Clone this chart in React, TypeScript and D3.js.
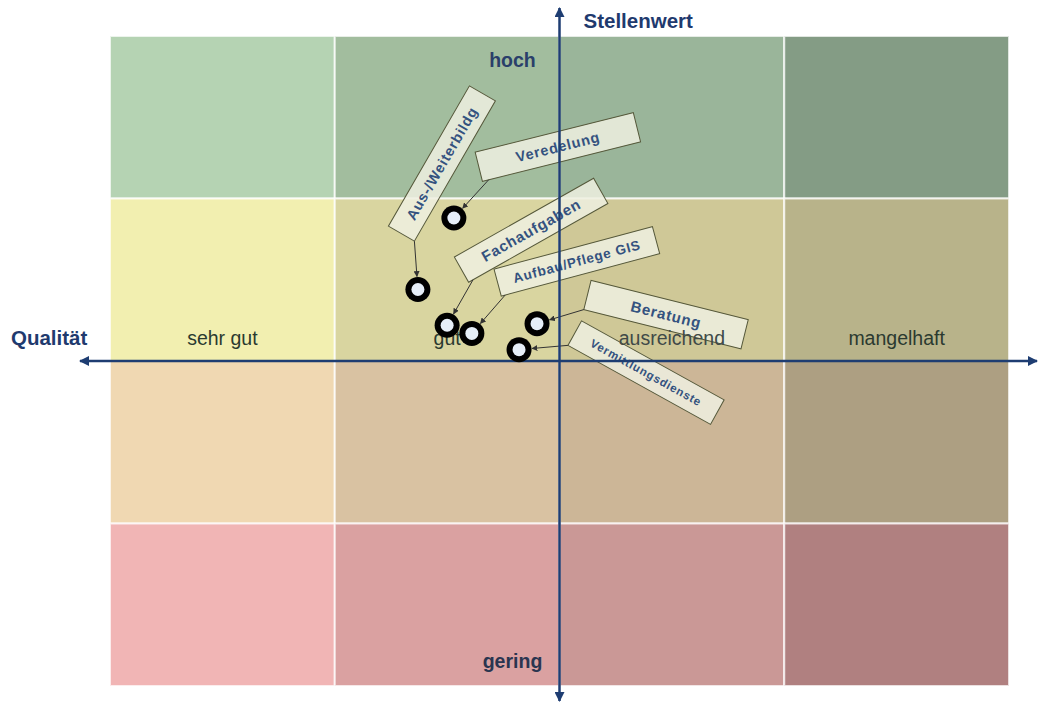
import React from 'react';
import * as d3 from 'd3';

// Achsen-Kategorien
const qualityLabels = ['sehr gut', 'gut', 'ausreichend', 'mangelhaft'];
const importanceRows = ['hoch', 'mittel-hoch', 'mittel-gering', 'gering'];

// Bewertete Aufgabenfelder
const items = [
  'Aus-/Weiterbildg',
  'Veredelung',
  'Fachaufgaben',
  'Aufbau/Pflege GIS',
  'Beratung',
  'Vermittlungsdienste',
];
const qualityScores = [1.37, 1.53, 1.5, 1.61, 1.9, 1.82];
const importanceScores = [2.44, 2.88, 2.22, 2.17, 2.23, 2.07];

// cell colours, row by row (top = hoch)
const cellColors = [
  ['#b5d3b3', '#a2bd9e', '#9ab59a', '#849c85'],
  ['#f2efb0', '#d9d5a0', '#cfc897', '#b8b38a'],
  ['#f0d8b2', '#d9c2a2', '#ccb697', '#ad9f82'],
  ['#f1b5b5', '#daa1a1', '#ca9896', '#b08080'],
];

// callout layout: box centre offset from point, rotation, size, connector anchor (box-local)
const callouts = [
  { dx: 24, dy: -126, angle: -60, w: 162, h: 30, ax: -81, ay: 15, fs: 14.5 },
  { dx: 104, dy: -71, angle: -14, w: 163, h: 30, ax: -75, ay: 15, fs: 14.5 },
  { dx: 84, dy: -95, angle: -29.5, w: 160, h: 29, ax: -75, ay: 14.5, fs: 15 },
  { dx: 105, dy: -72, angle: -15, w: 164, h: 28, ax: -78, ay: 14, fs: 13.5 },
  { dx: 129, dy: -9, angle: 14, w: 162, h: 30, ax: -81, ay: 15, fs: 15 },
  { dx: 127, dy: 23, angle: 29, w: 163, h: 28, ax: -81.5, ay: 14, fs: 11.5 },
];

const W = 1039;
const H = 702;
const left = 110;
const right = 1009;
const top = 36;
const bottom = 686;
const axisColor = '#1e3d72';
const font = 'Arial, "Liberation Sans", sans-serif';

export default function App() {
  const x = d3.scaleLinear().domain([0, 4]).range([left, right]);
  const y = d3.scaleLinear().domain([0, 4]).range([bottom, top]);
  const colBand = d3.scaleBand<number>().domain(d3.range(4)).range([left, right]);
  const rowBand = d3.scaleBand<number>().domain(d3.range(4)).range([top, bottom]);

  const cx0 = x(2);
  const cy0 = y(2);

  const pts = items.map((name, i) => {
    const px = x(qualityScores[i]);
    const py = y(importanceScores[i]);
    const c = callouts[i];
    const bx = px + c.dx;
    const by = py + c.dy;
    const r = (c.angle * Math.PI) / 180;
    const sx = bx + c.ax * Math.cos(r) - c.ay * Math.sin(r);
    const sy = by + c.ax * Math.sin(r) + c.ay * Math.cos(r);
    const len = Math.hypot(px - sx, py - sy);
    const ex = px + ((sx - px) / len) * 13;
    const ey = py + ((sy - py) / len) * 13;
    return { name, px, py, bx, by, c, sx, sy, ex, ey };
  });

  return (
    <div style={{ position: 'absolute', left: 0, top: 0 }}>
      <svg width={W} height={H} style={{ display: 'block', background: '#fff' }}>
        <defs>
          <marker id="arr" viewBox="0 0 10 10" refX="9" refY="5" markerWidth="6" markerHeight="6" orient="auto">
            <path d="M0,0 L10,5 L0,10 z" fill="#333" />
          </marker>
          <marker id="axArr" viewBox="0 0 10 10" refX="9" refY="5" markerWidth="4" markerHeight="4" orient="auto">
            <path d="M0,0 L10,5 L0,10 z" fill={axisColor} />
          </marker>
        </defs>

        {/* cells */}
        {cellColors.map((row, ri) =>
          row.map((col, ci) => (
            <rect
              key={`${ri}-${ci}`}
              x={colBand(ci)}
              y={rowBand(ri)}
              width={colBand.bandwidth()}
              height={rowBand.bandwidth()}
              fill={col}
              stroke="#fff"
              strokeOpacity={0.75}
              strokeWidth={2}
            />
          ))
        )}

        {/* callout boxes */}
        {pts.map((p) => (
          <g key={p.name} transform={`translate(${p.bx},${p.by}) rotate(${p.c.angle})`}>
            <rect
              x={-p.c.w / 2}
              y={-p.c.h / 2}
              width={p.c.w}
              height={p.c.h}
              fill="#eef0e0"
              fillOpacity={0.85}
              stroke="#55583a"
              strokeWidth={1}
            />
            <text
              textAnchor="middle"
              dy="0.35em"
              fontFamily={font}
              fontSize={p.c.fs}
              fontWeight="bold"
              letterSpacing={0.8}
              fill="#34527f"
            >
              {p.name}
            </text>
          </g>
        ))}

        {/* quality labels */}
        {qualityLabels.map((q, i) => (
          <text
            key={q}
            x={colBand(i)! + colBand.bandwidth() / 2}
            y={cy0 - 16}
            textAnchor="middle"
            fontFamily={font}
            fontSize={19.5}
            fill={i === 2 ? '#3f4a48' : '#2b3a30'}
          >
            {q}
          </text>
        ))}

        {/* connectors */}
        {pts.map((p) => (
          <line
            key={'c' + p.name}
            x1={p.sx}
            y1={p.sy}
            x2={p.ex}
            y2={p.ey}
            stroke="#333"
            strokeWidth={1}
            markerEnd="url(#arr)"
          />
        ))}

        {/* axes */}
        <line x1={cx0} y1={cy0} x2={80} y2={cy0} stroke={axisColor} strokeWidth={2.5} markerEnd="url(#axArr)" />
        <line x1={cx0} y1={cy0} x2={1037} y2={cy0} stroke={axisColor} strokeWidth={2.5} markerEnd="url(#axArr)" />
        <line x1={cx0} y1={cy0} x2={cx0} y2={8} stroke={axisColor} strokeWidth={2.5} markerEnd="url(#axArr)" />
        <line x1={cx0} y1={cy0} x2={cx0} y2={701} stroke={axisColor} strokeWidth={2.5} markerEnd="url(#axArr)" />

        {/* points */}
        {pts.map((p) => (
          <g key={'p' + p.name}>
            <circle cx={p.px} cy={p.py} r={12.5} fill="#000" />
            <circle cx={p.px} cy={p.py} r={6.5} fill="#e6eef8" />
          </g>
        ))}

        {/* axis titles */}
        <text x={cx0 + 24} y={28} fontFamily={font} fontSize={20.5} fontWeight="bold" fill="#1f3a6e">
          Stellenwert
        </text>
        <text x={11} y={cy0 - 16} fontFamily={font} fontSize={20.5} fontWeight="bold" fill="#1f3a6e">
          Qualität
        </text>
        <text x={cx0 - 47} y={67} textAnchor="middle" fontFamily={font} fontSize={19.5} fontWeight="bold" fill="#2a3f6a">
          {importanceRows[0]}
        </text>
        <text x={cx0 - 47} y={668} textAnchor="middle" fontFamily={font} fontSize={19.5} fontWeight="bold" fill="#2a3550">
          {importanceRows[3]}
        </text>
      </svg>
    </div>
  );
}
